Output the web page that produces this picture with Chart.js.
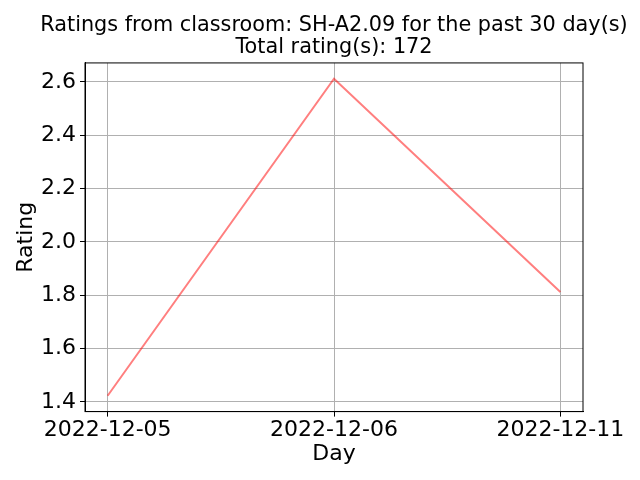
<!DOCTYPE html>
<html>
<head>
<meta charset="utf-8">
<script src="https://cdn.jsdelivr.net/npm/chart.js@4"></script>
<style>
  html, body { margin: 0; padding: 0; background: #fff; }
  #wrap { width: 640px; height: 480px; }
</style>
</head>
<body>
<div id="wrap"><canvas id="ratingChart"></canvas></div>
<script>
const days = ['2022-12-05', '2022-12-06', '2022-12-11'];
const ratings = [1.423, 2.612, 1.812];
const totalRatings = 172;
const classroom = 'SH-A2.09';

const FONT = "'DejaVu Sans', sans-serif";

// matplotlib-like 5% margins around the data
const yMin = Math.min(...ratings), yMax = Math.max(...ratings);
const yPad = (yMax - yMin) * 0.05;
const xPad = (days.length - 1) * 0.05;

// closed box around the plot area (matplotlib spines),
// and title centred over the plot area like matplotlib does
const boxPlugin = {
    id: 'box',
    afterLayout(chart) {
        const t = chart.titleBlock, a = chart.chartArea;
        if (!t) return;
        const cx = (a.left + a.right) / 2;
        t.left = cx - chart.width / 2;
        t.right = cx + chart.width / 2;
        t.width = chart.width;
    },
    afterDatasetsDraw(chart) {
        const a = chart.chartArea, c = chart.ctx;
        c.save();
        c.strokeStyle = '#000';
        c.lineWidth = 1;
        c.strokeRect(a.left, a.top, a.right - a.left, a.bottom - a.top);
        c.restore();
    }
};

const ctx = document.getElementById('ratingChart').getContext('2d');
new Chart(ctx, {
    type: 'line',
    data: {
        datasets: [{
            data: ratings.map((r, i) => ({ x: i, y: r })),
            borderColor: 'rgba(255, 0, 0, 0.5)',
            borderWidth: 2,
            pointRadius: 0,
            tension: 0,
            fill: false
        }]
    },
    options: {
        responsive: true,
        maintainAspectRatio: false,
        animation: false,
        layout: { padding: { left: 13, right: 57, top: 7, bottom: 15 } },
        scales: {
            x: {
                type: 'linear',
                min: -xPad,
                max: days.length - 1 + xPad,
                afterBuildTicks: axis => {
                    axis.ticks = days.map((d, i) => ({ value: i }));
                },
                afterFit: axis => { axis.paddingLeft = 0; axis.paddingRight = 0; },
                ticks: {
                    callback: v => days[v],
                    color: '#000',
                    font: { family: FONT, size: 22 },
                    maxRotation: 0,
                    padding: 0
                },
                grid: { color: '#b0b0b0', tickColor: '#000', tickLength: 5, lineWidth: 1 },
                border: { color: '#000' },
                title: {
                    display: true,
                    text: 'Day',
                    color: '#000',
                    font: { family: FONT, size: 22, lineHeight: 1.0 },
                    padding: { top: 0, bottom: 0 }
                }
            },
            y: {
                min: yMin - yPad,
                max: yMax + yPad,
                afterBuildTicks: axis => {
                    const t = [];
                    for (let v = 1.4; v <= 2.61; v += 0.2) t.push({ value: Math.round(v * 10) / 10 });
                    axis.ticks = t;
                },
                afterFit: axis => { axis.width = 72; },
                ticks: {
                    callback: v => v.toFixed(1),
                    color: '#000',
                    font: { family: FONT, size: 22 },
                    padding: 4
                },
                grid: { color: '#b0b0b0', tickColor: '#000', tickLength: 5, lineWidth: 1 },
                border: { color: '#000' },
                title: {
                    display: true,
                    text: 'Rating',
                    color: '#000',
                    font: { family: FONT, size: 22 },
                    padding: 0
                }
            }
        },
        plugins: {
            legend: { display: false },
            tooltip: { enabled: false },
            title: {
                display: true,
                text: ['Ratings from classroom: ' + classroom + ' for the past 30 day(s)',
                       'Total rating(s): ' + totalRatings],
                color: '#000',
                font: { family: FONT, size: 20.8, weight: 'normal', lineHeight: 1.08 },
                padding: { top: 7, bottom: 4 }
            }
        }
    },
    plugins: [boxPlugin]
});
</script>
</body>
</html>
